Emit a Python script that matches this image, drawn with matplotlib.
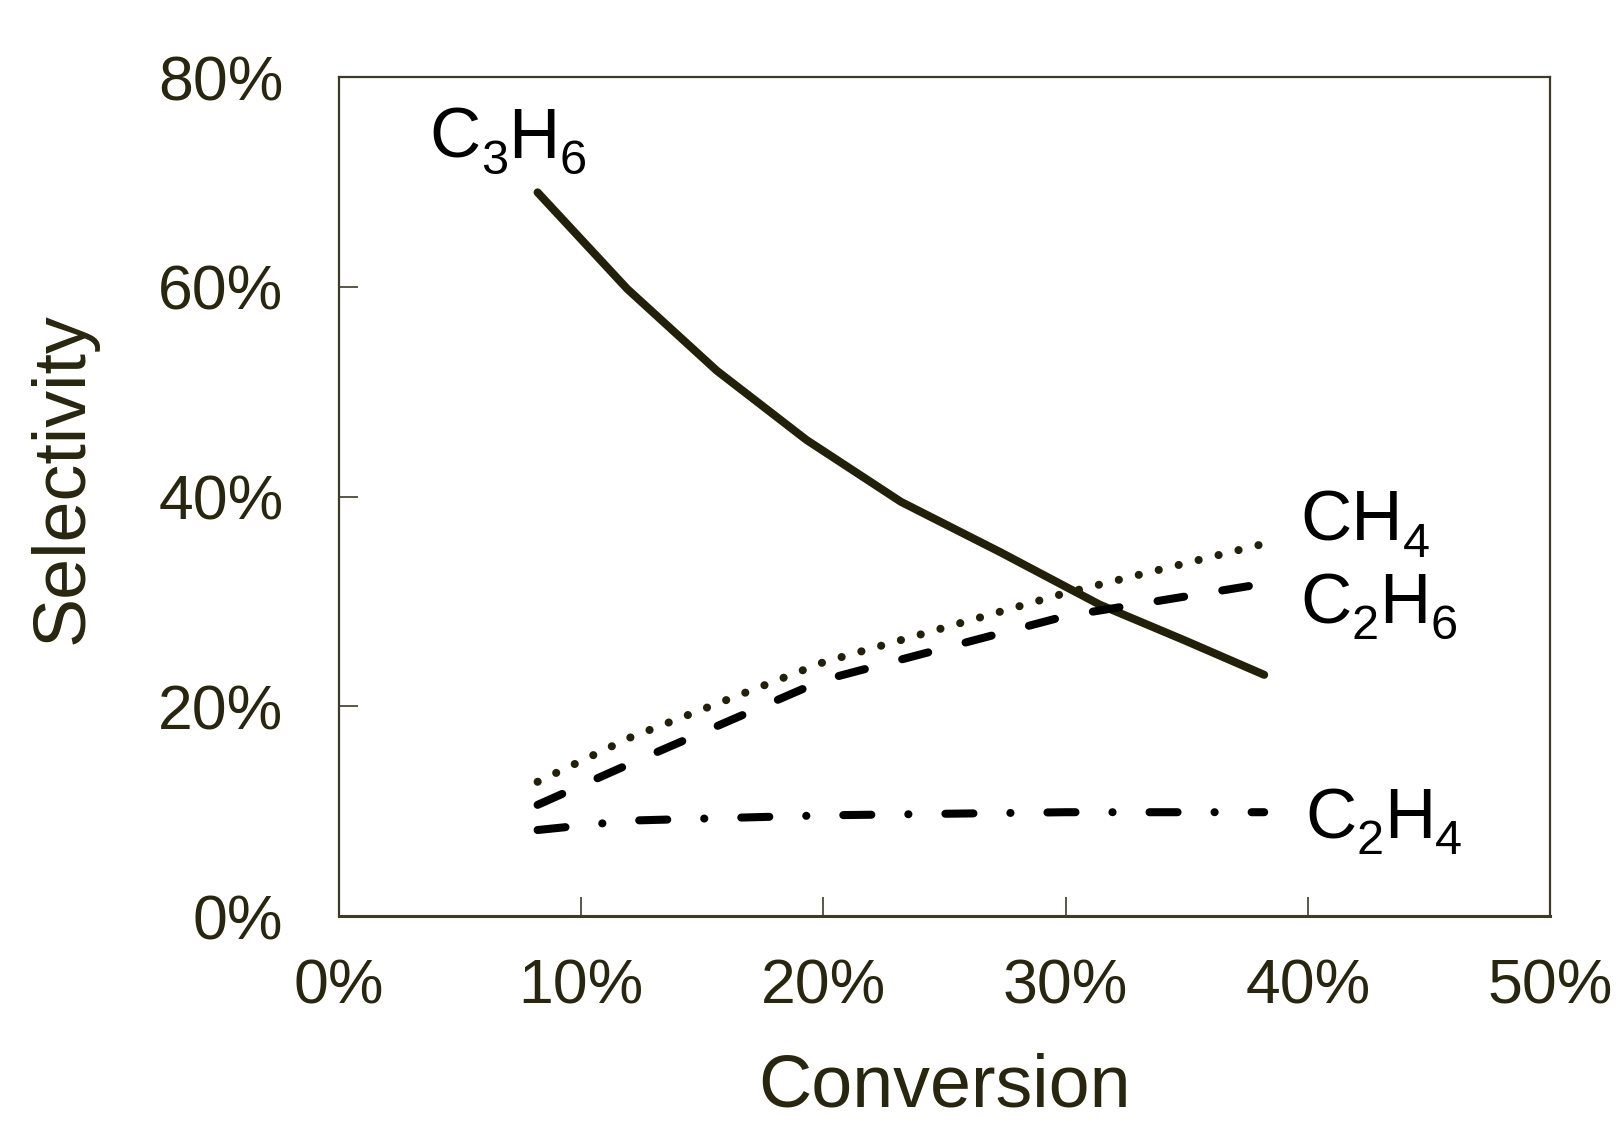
import matplotlib
matplotlib.use("Agg")
import matplotlib.pyplot as plt
from matplotlib.ticker import FuncFormatter
from matplotlib.font_manager import FontProperties

# data (conversion %, selectivity %)
conv_c3h6 = [8.2, 11.9, 15.6, 19.3, 23.2, 27.3, 31.4, 34.9, 38.2]
sel_c3h6 = [69.0, 59.8, 52.0, 45.4, 39.5, 34.7, 29.7, 26.3, 23.0]

conv = [8.2, 12.0, 20.0, 30.0, 38.2]
sel_ch4 = [12.8, 17.0, 24.2, 30.8, 35.5]
sel_c2h6 = [10.6, 14.5, 22.5, 28.6, 31.7]
sel_c2h4 = [8.2, 9.1, 9.6, 9.9, 9.9]

x_ticks = [0, 10, 20, 30, 40, 50]
y_ticks = [0, 20, 40, 60, 80]

plt.rcParams['font.family'] = ['Liberation Sans', 'DejaVu Sans']
plt.rcParams['lines.scale_dashes'] = False

text_col = '#29260f'
axis_col = '#3d3b26'
line_col = '#23200a'

fig = plt.figure(figsize=(16.22, 11.23), dpi=100)
ax = fig.add_axes([0.209, 0.1843, 0.7466, 0.7471])

lw = 5.8
ax.plot(conv_c3h6, sel_c3h6, color=line_col, lw=lw, solid_capstyle='round',
        solid_joinstyle='round')
ax.plot(conv, sel_ch4, color=line_col, lw=lw, linestyle=(0, (0.1, 14.7)),
        dash_capstyle='round')
ax.plot(conv, sel_c2h6, color='black', lw=lw, linestyle=(0, (19.4, 27.8)),
        dash_capstyle='round')
ax.plot(conv, sel_c2h4, color='black', lw=lw,
        linestyle=(0, (20.2, 26.6, 0.1, 26.6)), dash_capstyle='round')

ax.set_xlim(0, 50)
ax.set_ylim(0, 80)
ax.set_xticks(x_ticks)
ax.set_yticks(y_ticks)
pct = FuncFormatter(lambda v, p: f"{v:.0f}%")
ax.xaxis.set_major_formatter(pct)
ax.yaxis.set_major_formatter(pct)

ax.tick_params(axis='both', direction='in', length=14, width=1.2,
               color=axis_col, labelcolor=text_col, labelsize=45)
ax.tick_params(axis='x', pad=30)
ax.tick_params(axis='y', pad=40)
for s in ax.spines.values():
    s.set_color(axis_col)
    s.set_linewidth(1.6)
ax.spines['bottom'].set_linewidth(2.2)

fig.text(0.582, 0.015, 'Conversion', fontsize=53, color=text_col,
         ha='center', va='baseline')
fig.text(0.039, 0.574, 'Selectivity', fontsize=53, color=text_col,
         rotation=90, ha='center', va='center')

# formula labels: subscripts drawn as smaller, lowered text pieces
main_size = 51
sub_size = 35
drop = 11.5  # points below main baseline
renderer = fig.canvas.get_renderer()
_, _, desc_px = renderer.get_text_width_height_descent(
    'lp', FontProperties(family='Liberation Sans', size=main_size), False)
desc_pt = desc_px * 72 / fig.dpi


def chem(x, y, parts):
    first = ax.text(x, y, parts[0][0], fontsize=main_size, color='black',
                    ha='left', va='baseline')
    prev = first
    for s, sub in parts[1:]:
        dy = desc_pt - drop if sub else desc_pt
        prev = ax.annotate(s, xy=(1, 0), xycoords=(prev, first),
                           xytext=(0, dy), textcoords='offset points',
                           fontsize=sub_size if sub else main_size,
                           color='black', ha='left', va='baseline')


chem(3.75, 72.3, [('C', False), ('3', True), ('H', False), ('6', True)])
chem(39.7, 35.8, [('CH', False), ('4', True)])
chem(39.7, 27.9, [('C', False), ('2', True), ('H', False), ('6', True)])
chem(39.9, 7.44, [('C', False), ('2', True), ('H', False), ('4', True)])

fig.savefig('out.png', dpi=100)
